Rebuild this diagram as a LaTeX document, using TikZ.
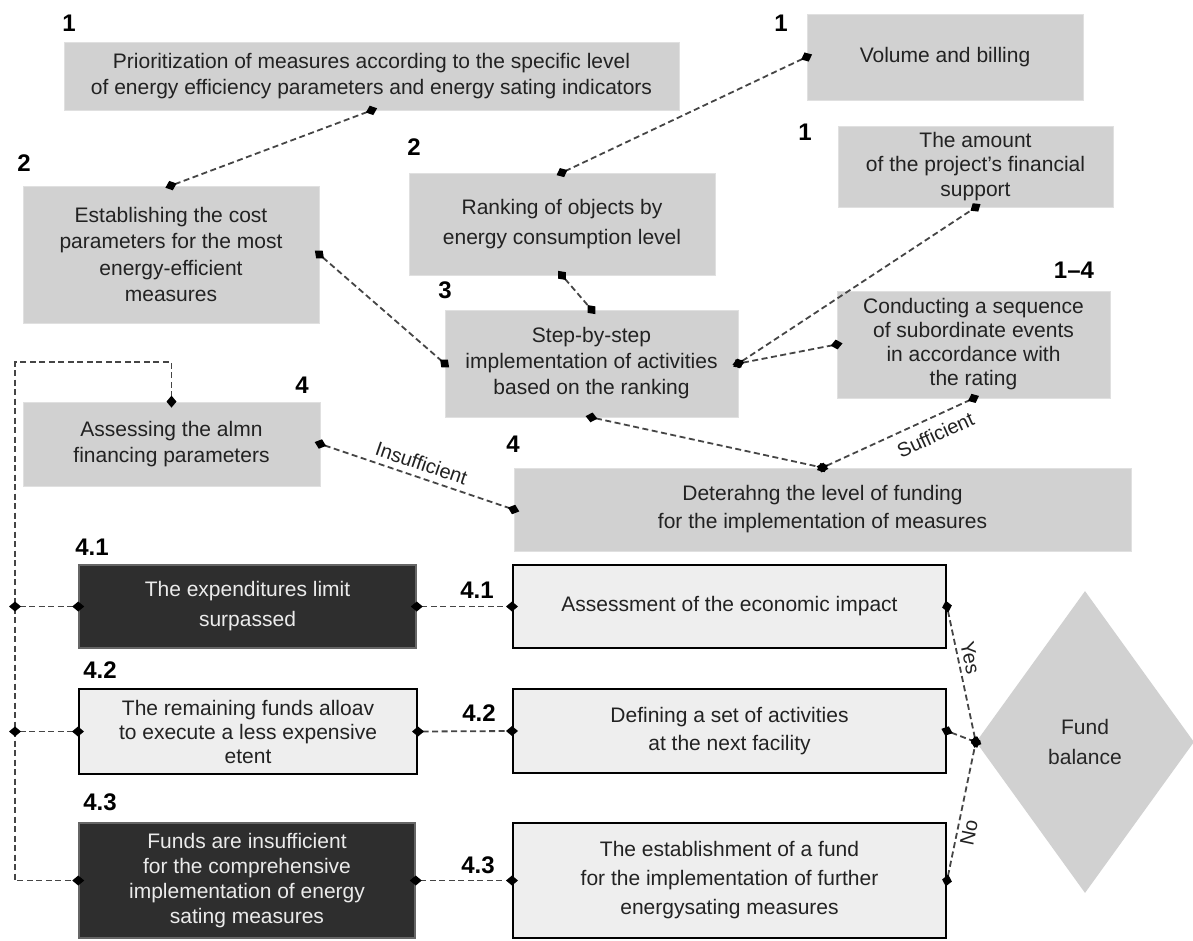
\documentclass[tikz,border=0pt]{standalone}
\usepackage{fontspec}
\setmainfont{Liberation Sans}
\usetikzlibrary{positioning,arrows.meta,shapes.geometric,calc}

\definecolor{cBox}{HTML}{D1D1D1}
\definecolor{cEdge}{HTML}{E0E0E0}
\definecolor{cDark}{HTML}{2E2E2E}
\definecolor{cLight}{HTML}{EEEEEE}
\definecolor{cLink}{HTML}{454545}
\definecolor{cInk}{HTML}{222222}

\begin{document}
\begin{tikzpicture}[x=1pt,y=-1pt,
  every node/.style={font=\fontsize{21}{26}\selectfont, text=cInk},
  graybox/.style={rectangle, fill=cBox, draw=cEdge, line width=0.8pt, align=center, inner sep=2pt},
  darkbox/.style={rectangle, fill=cDark, draw=black!60, line width=1.5pt, align=center, inner sep=2pt, text=white!92!black},
  lightbox/.style={rectangle, fill=cLight, draw=black, line width=2pt, align=center, inner sep=2pt},
  num/.style={font=\fontsize{24}{24}\selectfont\bfseries, text=black},
  tag/.style={font=\fontsize{20}{20}\selectfont, text=cInk, inner sep=4pt},
  link/.style={dash pattern=on 6pt off 3.5pt, line width=1.8pt, draw=cLink,
    {Diamond[length=12pt,width=10pt,color=black]}-{Diamond[length=12pt,width=10pt,color=black]},
    shorten <=-6pt, shorten >=-6pt}
]
\useasboundingbox (0,0) rectangle (1193,940);

% upper part
\node[graybox, minimum width=615pt, minimum height=68pt] (prio) at (371.5,76)
  {Prioritization of measures according to the specific level\\ of energy efficiency parameters and energy sating indicators};
\node[graybox, minimum width=276pt, minimum height=86pt] (volume) at (945,57) {Volume and billing};
\node[graybox, minimum width=275pt, minimum height=81pt, font=\fontsize{21}{24.5}\selectfont] (amount) at (975.5,166.5)
  {The amount\\ of the project’s financial\\ support};
\node[graybox, minimum width=296pt, minimum height=137pt, font=\fontsize{21}{26.5}\selectfont] (costs) at (171,254.5)
  {Establishing the cost\\ parameters for the most\\ energy-efficient\\ measures};
\node[graybox, minimum width=306pt, minimum height=102pt, font=\fontsize{21}{30}\selectfont] (ranking) at (562,224)
  {Ranking of objects by\\ energy consumption level};
\node[graybox, minimum width=293pt, minimum height=107pt] (stepwise) at (591.5,363.5)
  {Step-by-step\\ implementation of activities\\ based on the ranking};
\node[graybox, minimum width=273pt, minimum height=107pt, font=\fontsize{21}{24}\selectfont] (sequence) at (973.5,344.5)
  {Conducting a sequence\\ of subordinate events\\ in accordance with\\ the rating};
\node[graybox, minimum width=297pt, minimum height=84pt] (assess) at (171.5,444)
  {Assessing the almn\\ financing parameters};
\node[graybox, minimum width=617pt, minimum height=83pt, font=\fontsize{21}{28}\selectfont] (funding) at (822.5,509.5)
  {Deterahng the level of funding\\ for the implementation of measures};

% lower part
\node[darkbox, minimum width=337pt, minimum height=83pt, font=\fontsize{21}{30}\selectfont] (limit) at (247.5,606.5)
  {The expenditures limit\\ surpassed};
\node[lightbox, minimum width=433pt, minimum height=83pt] (effect) at (729.5,606.5)
  {Assessment of the economic impact};
\node[lightbox, minimum width=338pt, minimum height=85pt, font=\fontsize{21}{24}\selectfont] (remain) at (248,731.5)
  {The remaining funds alloav\\ to execute a less expensive\\ etent};
\node[lightbox, minimum width=433pt, minimum height=84pt, font=\fontsize{21}{28}\selectfont] (nextset) at (729.5,731)
  {Defining a set of activities\\ at the next facility};
\node[darkbox, minimum width=336pt, minimum height=115pt, font=\fontsize{21}{25}\selectfont] (lack) at (247,880.5)
  {Funds are insufficient\\ for the comprehensive\\ implementation of energy\\ sating measures};
\node[lightbox, minimum width=433pt, minimum height=115pt, font=\fontsize{21}{29}\selectfont] (reserve) at (729.5,880.5)
  {The establishment of a fund\\ for the implementation of further\\ energysating measures};
\node[diamond, fill=cBox, inner sep=0pt, minimum width=218pt, minimum height=302pt, align=center,
  font=\fontsize{21}{30}\selectfont, text=black!85] (balance) at (1085,742) {Fund\\ balance};

% step numbers
\foreach \txt/\px/\py [count=\i] in {1/69/23, 1/781/23, 1/805/132, 2/24/163, 2/414/147, 3/445/290,
    1--4/1074/270, 4/302/385, 4/513/444, 4.1/92/547, 4.2/100/670, 4.3/100/802,
    4.1/477/590, 4.2/479/713, 4.3/478/865}
  \node[num] (num\i) at (\px,\py) {\txt};

% connectors
\draw[link] (prio.south) -- (costs.north);
\draw[link] (volume.west) -- (ranking.north);
\draw[link] (costs.east) -- (stepwise.west);
\draw[link] (ranking.south) -- (stepwise.north);
\draw[link] (stepwise.east) -- (amount.south);
\draw[link] (stepwise.east) -- (sequence.west);
\draw[link] (stepwise.south) -- (funding.north);
\draw[link] (funding.north) -- node[tag, pos=0.7, below=5pt, sloped] (sufficient) {Sufficient} (sequence.south);
\draw[link] (assess.east) -- node[tag, midway, above=2pt, sloped] (insufficient) {Insufficient} (funding.west);

\coordinate (rail) at (15,362);
\draw[link] (assess.north) |- (rail) |- (lack.west);
\foreach \row in {limit, remain}
  \draw[link] (rail |- \row.west) -- (\row.west);
\foreach \l/\r in {limit/effect, remain/nextset, lack/reserve}
  \draw[link] (\l.east) -- (\r.west);

\draw[link] (effect.east) -- node[tag, pos=0.4, above, sloped] (yes) {Yes} (balance.west);
\draw[link] (nextset.east) -- (balance.west);
\draw[link] (reserve.east) -- node[tag, pos=0.36, below, sloped] (no) {No} (balance.west);
\end{tikzpicture}
\end{document}
